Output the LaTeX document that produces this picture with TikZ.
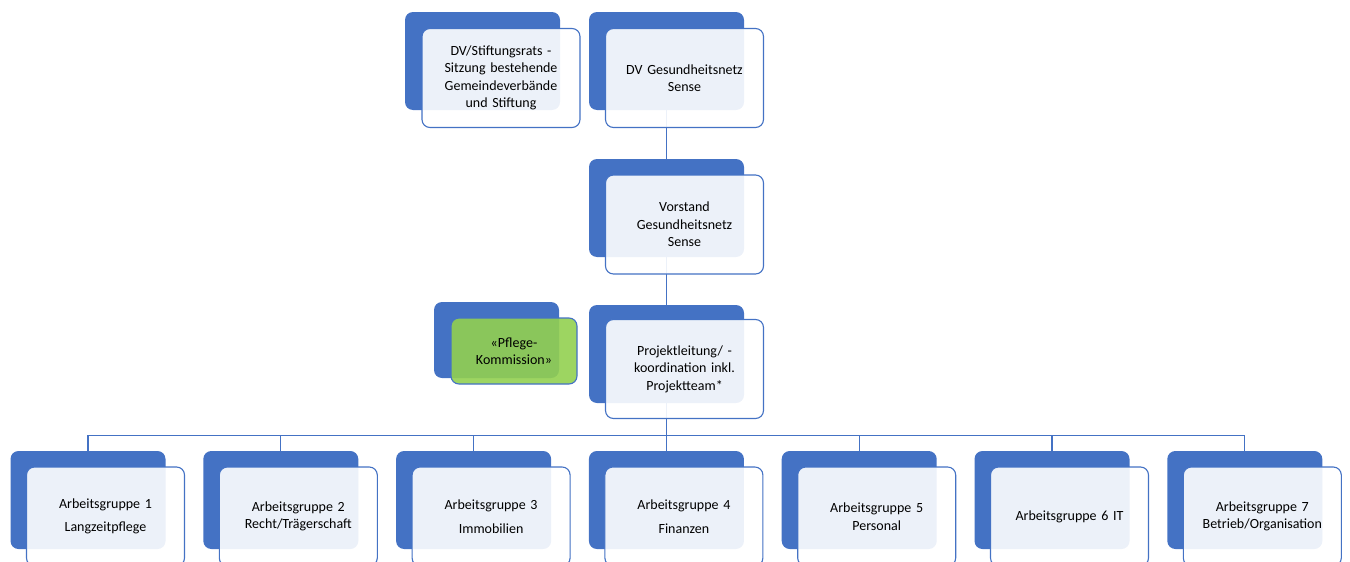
\documentclass[tikz,border=0pt]{standalone}
\usepackage{fontspec}
\setmainfont{Carlito}
\usetikzlibrary{calc}
\definecolor{orgblue}{HTML}{4472C4}
\definecolor{orggreen}{HTML}{92D050}

\begin{document}
\begin{tikzpicture}[x=1pt, y=-1pt,
	back/.style={rectangle, rounded corners=8pt, fill=orgblue, draw=none,
		minimum width=155pt, minimum height=98pt, inner sep=0pt},
	front/.style={rectangle, rounded corners=8pt, fill=white, fill opacity=0.9,
		text opacity=1, draw=orgblue, line width=1.1pt, minimum width=158pt,
		minimum height=99pt, inner sep=0pt, text width=156pt, align=center,
		font=\fontsize{14}{17.5}\selectfont},
	link/.style={draw=orgblue, line width=1.2pt}]
	\useasboundingbox (0,0) rectangle (1350,562);
	\clip (0,0) rectangle (1350,562);
	% blue backs
	\node[back] (stiftb) at (482.5,61) {};
	\node[back] (dvgb) at (666.5,61) {};
	\node[back] (vorb) at (666.5,208) {};
	\node[back] (plb) at (666.5,354) {};
	\node[back, minimum width=125pt, minimum height=76pt] (pflb) at (496.5,340) {};
	\foreach \i in {1,...,7}
		\node[back] (agb\i) at ({88+192.8*(\i-1)},500) {};
	% connectors
	\draw[link] (dvgb.south) -- (vorb.north);
	\draw[link] (vorb.south) -- (plb.north);
	\foreach \i in {1,...,7}
		\draw[link] (plb.south) -- ++(0,32) -| (agb\i.north);
	% front boxes
	\node[front] (stift) at ($(stiftb)+(18.5,17)$) {DV/Stiftungsrats -\\Sitzung bestehende\\Gemeindeverbände\\und Stiftung};
	\node[front] (dvg) at ($(dvgb)+(18,17)$) {DV Gesundheitsnetz\\Sense};
	\node[front] (vor) at ($(vorb)+(18,16.5)$) {Vorstand\\Gesundheitsnetz\\Sense};
	\node[front] (pl) at ($(plb)+(18,15)$) {Projektleitung/ -\\koordination inkl.\\Projektteam*};
	\node[front, fill=orggreen, minimum width=126pt, minimum height=66pt,
		text width=124pt] (pfl) at ($(pflb)+(17.5,11)$) {«Pflege-\\Kommission»};
	\foreach \i/\txt in {1/{Arbeitsgruppe 1\\[6pt]Langzeitpflege},
		2/{Arbeitsgruppe 2\\Recht/Trägerschaft},
		3/{Arbeitsgruppe 3\\[6pt]Immobilien},
		4/{Arbeitsgruppe 4\\[6pt]Finanzen},
		5/{Arbeitsgruppe 5\\Personal},
		6/{Arbeitsgruppe 6 IT},
		7/{Arbeitsgruppe 7\\Betrieb/Organisation}}
		\node[front] (ag\i) at ($(agb\i)+(17.5,16.5)$) {\txt};
\end{tikzpicture}
\end{document}
